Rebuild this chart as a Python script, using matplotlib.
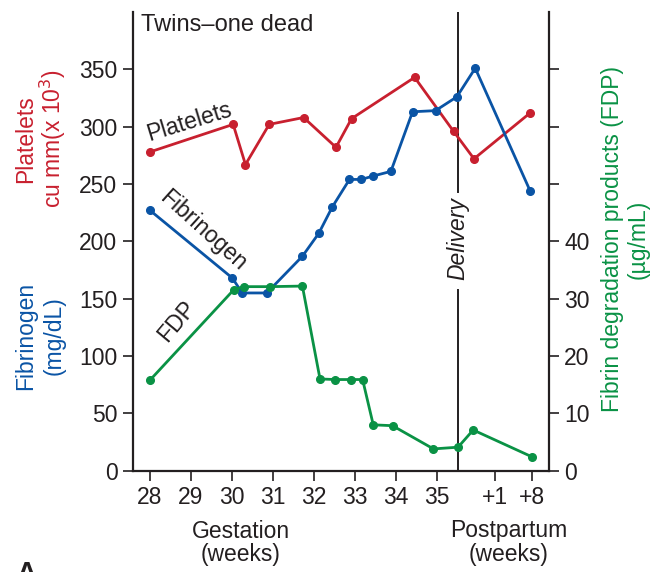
import matplotlib
matplotlib.use("Agg")
import matplotlib.pyplot as plt

plt.rcParams['font.family'] = ['Liberation Sans', 'DejaVu Sans']

# x positions in "week" units (gestation weeks, postpartum mapped after delivery)
tick_pos = [28, 29, 30, 31, 32, 33, 34, 35, 36.42, 37.33]
tick_labels = ["28", "29", "30", "31", "32", "33", "34", "35", "+1", "+8"]
delivery_x = 35.51

plt_x = [28, 30.03, 30.33, 30.91, 31.75, 32.54, 32.92, 34.46, 35.41, 35.91, 37.28]
plt_y = [278, 302, 267, 302, 308, 282, 307, 343, 296, 272, 312]

fib_x = [28, 30.01, 30.25, 30.85, 31.72, 32.12, 32.45, 32.87, 33.16, 33.45, 33.88,
         34.41, 34.97, 35.49, 35.94, 37.28]
fib_y = [227, 168, 155, 155, 187, 207, 230, 254, 254, 257, 261, 313, 314, 326, 351, 244]

fdp_x = [28, 30.05, 30.30, 30.92, 31.72, 32.15, 32.52, 32.91, 33.19, 33.45, 33.92,
         34.92, 35.52, 35.89, 37.33]
fdp_y = [15.8, 31.6, 32.1, 32.1, 32.2, 16.0, 15.9, 15.9, 15.9, 8.0, 7.85, 3.8, 4.1, 7.1, 2.4]

left_ticks = [0, 50, 100, 150, 200, 250, 300, 350]
right_ticks = [0, 10, 20, 30, 40, 50, 60, 70]
right_labels = ["0", "10", "20", "30", "40", "", "", ""]

RED = '#c8202f'
BLUE = '#0a54a5'
GREEN = '#0a9245'
INK = '#231f20'
FS = 16.5

fig = plt.figure(figsize=(6.64, 5.72), dpi=100)
ax = fig.add_axes([0.1999, 0.1771, 0.6265, 0.8019])
ax2 = ax.twinx()

ax.set_xlim(27.578, 37.734)
ax.set_ylim(0, 400)
ax2.set_ylim(0, 80)

ax.plot(plt_x, plt_y, color=RED, lw=2.0, marker='o', ms=5.5, zorder=3)
ax.plot(fib_x, fib_y, color=BLUE, lw=2.0, marker='o', ms=5.5, zorder=3)
ax2.plot(fdp_x, fdp_y, color=GREEN, lw=2.0, marker='o', ms=5.5, zorder=3)

# delivery line with gap for label
ax.plot([delivery_x, delivery_x], [0, 158], color=INK, lw=1.4, zorder=2)
ax.plot([delivery_x, delivery_x], [243, 400], color=INK, lw=1.4, zorder=2)
ax.text(delivery_x, 202, "Delivery", rotation=90, ha='center', va='center',
        fontsize=FS, style='italic', color=INK)

for a in (ax, ax2):
    a.spines['top'].set_visible(False)
    for s in a.spines.values():
        s.set_linewidth(1.6)
        s.set_color(INK)

ax.spines['right'].set_visible(False)
ax2.spines['left'].set_visible(False)
ax2.spines['bottom'].set_visible(False)

ax.set_xticks(tick_pos)
ax.set_xticklabels(tick_labels)
ax.set_yticks(left_ticks)
ax2.set_yticks(right_ticks)
ax2.set_yticklabels(right_labels)

ax.tick_params(axis='both', direction='out', length=7, width=1.2, color=INK,
               labelsize=FS, labelcolor=INK, pad=4)
ax2.tick_params(axis='y', direction='out', length=7, width=1.2, color=INK,
                labelsize=FS, labelcolor=INK, pad=4)

# inline series labels
ax.text(28.95, 304, "Platelets", rotation=17, ha='center', va='center',
        fontsize=FS, color=INK, rotation_mode='anchor')
ax.text(29.3, 209, "Fibrinogen", rotation=-42, ha='center', va='center',
        fontsize=FS, color=INK, rotation_mode='anchor')
ax.text(28.66, 130, "FDP", rotation=50, ha='center', va='center',
        fontsize=FS, color=INK, rotation_mode='anchor')

# title inside axes
fig.text(141 / 664, 1 - 25 / 572, "Twins\u2013one dead", ha='left', va='center',
         fontsize=FS + 0.5, color=INK)

# left axis labels
fig.text(26 / 664, 1 - 139 / 572, "Platelets", rotation=90, ha='center', va='center',
         fontsize=FS, color=RED)
fig.text(53 / 664, 1 - 139 / 572, "cu mm(x 10$^3$)", rotation=90, ha='center', va='center',
         fontsize=FS, color=RED)
fig.text(26 / 664, 1 - 336 / 572, "Fibrinogen", rotation=90, ha='center', va='center',
         fontsize=FS, color=BLUE)
fig.text(54 / 664, 1 - 336 / 572, "(mg/dL)", rotation=90, ha='center', va='center',
         fontsize=FS, color=BLUE)

# right axis labels
fig.text(613 / 664, 1 - 239 / 572, "Fibrin degradation products (FDP)", rotation=90,
         ha='center', va='center', fontsize=FS, color=GREEN)
fig.text(638 / 664, 1 - 239 / 572, "(\u00b5g/mL)", rotation=90,
         ha='center', va='center', fontsize=FS, color=GREEN)

# bottom labels
fig.text(241 / 664, 1 - 531 / 572, "Gestation", ha='center', va='center',
         fontsize=FS, color=INK)
fig.text(241 / 664, 1 - 554 / 572, "(weeks)", ha='center', va='center',
         fontsize=FS, color=INK)
fig.text(509 / 664, 1 - 531 / 572, "Postpartum", ha='center', va='center',
         fontsize=FS, color=INK)
fig.text(509 / 664, 1 - 554 / 572, "(weeks)", ha='center', va='center',
         fontsize=FS, color=INK)

fig.text(16 / 664, 1 - 561 / 572, "A", ha='left', va='top', fontsize=20,
         fontweight='bold', color=INK)

fig.savefig("out.png", dpi=100)
